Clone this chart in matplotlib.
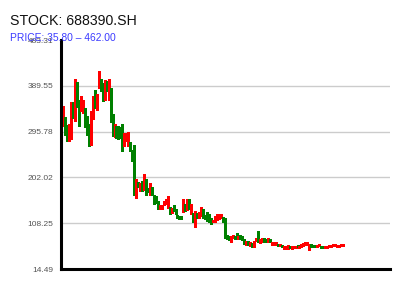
import numpy as np
import matplotlib
matplotlib.use("Agg")
import matplotlib.pyplot as plt

plt.rcParams["font.family"] = ["Liberation Sans", "DejaVu Sans"]

# --- data (open, close) ---
opens = [
    308, 326, 310, 276, 280, 356, 317, 398, 361, 337,
    334, 344, 327, 312, 269, 322, 381, 341, 386, 404,
    395, 360, 400, 360, 385, 332, 284, 307, 308, 306,
    312, 266, 277, 267, 275, 259, 269, 160, 192, 175,
    194, 177, 198, 181, 166, 182, 165, 163, 154, 137,
    137, 146, 147, 139, 141, 130, 146, 137, 125, 123,
    123,
    132, 147, 135, 157, 127, 130, 101, 130, 118, 122,
    137, 125, 132, 128, 118, 110, 111, 114, 116, 118,
    121, 118, 84, 82, 70, 78, 82, 88, 76, 84,
    82, 76, 63, 72, 62, 67, 60, 72, 93, 67,
    70, 78, 76, 70, 76, 63, 63, 63, 65, 61,
    63, 55, 55, 55, 62, 55, 57, 57, 63, 57,
    60, 62, 63, 63, 54, 65, 63, 63, 59, 61,
    62, 62, 58, 58, 59, 60, 61, 61, 60, 60,
    61, 62,
]
closes = [
    349, 288, 276, 311, 356, 324, 404, 347, 308, 369,
    361, 305, 288, 266, 339, 369, 344, 373, 419, 378,
    358, 402, 378, 404, 315, 286, 311, 283, 280, 283,
    256, 293, 293, 294, 257, 235, 166, 198, 182, 191,
    174, 210, 167, 172, 191, 167, 147, 150, 137, 145,
    145, 154, 157, 163, 128, 139, 133, 127, 118, 116,
    116,
    157, 133, 158, 138, 147, 110, 133, 118, 132, 142,
    118, 116, 113, 110, 106, 114, 123, 127, 127, 127,
    111, 79, 76, 74, 82, 84, 76, 79, 82, 76,
    74, 65, 72, 64, 69, 60, 72, 79, 70, 76,
    79, 70, 69, 78, 69, 70, 70, 70, 62, 65,
    59, 62, 62, 63, 57, 62, 62, 62, 59, 62,
    65, 67, 69, 69, 65, 59, 59, 59, 63, 65,
    58, 58, 62, 62, 63, 63, 65, 65, 64, 64,
    65, 65,
]
yticks = [14.49, 108.25, 202.02, 295.78, 389.55, 483.31]
title = "STOCK: 688390.SH"
subtitle = "PRICE: 35.80 \u2013 462.00"

o = np.array(opens, dtype=float)
c = np.array(closes, dtype=float)
x = np.arange(len(o))
up = c >= o
colors = np.where(up, "#ff0000", "#008000")
lo = np.minimum(o, c)
hi = np.maximum(np.maximum(o, c), lo + 2)

fig = plt.figure(figsize=(4, 3), dpi=100)
ax = fig.add_axes([0.1525, 0.1033, 0.8225, 0.7633])

for yv in yticks[1:-1]:
    ax.axhline(yv, color="#cccccc", lw=1.0, zorder=0)

# candle bodies, thin
ax.vlines(x, lo, hi, colors=colors, linewidth=0.9, antialiased=False, zorder=2)

ax.set_xlim(-1.2, 166)
ax.set_ylim(yticks[0], yticks[-1])
ax.set_yticks(yticks)
ax.set_yticklabels(["%.2f" % v for v in yticks])
ax.set_xticks([])
ax.tick_params(axis="y", length=0, pad=5.5, labelsize=6, labelcolor="#555555")

for s in ["top", "right"]:
    ax.spines[s].set_visible(False)
for s in ["left", "bottom"]:
    ax.spines[s].set_linewidth(2.2)
    ax.spines[s].set_color("black")

fig.text(10 / 400, 1 - 25 / 300, title, fontsize=10.2, color="#111111", ha="left", va="baseline")
fig.text(10 / 400, 1 - 41 / 300, subtitle, fontsize=7.4, color="#3b3bff", ha="left", va="baseline")

fig.savefig("out.png", dpi=100)
